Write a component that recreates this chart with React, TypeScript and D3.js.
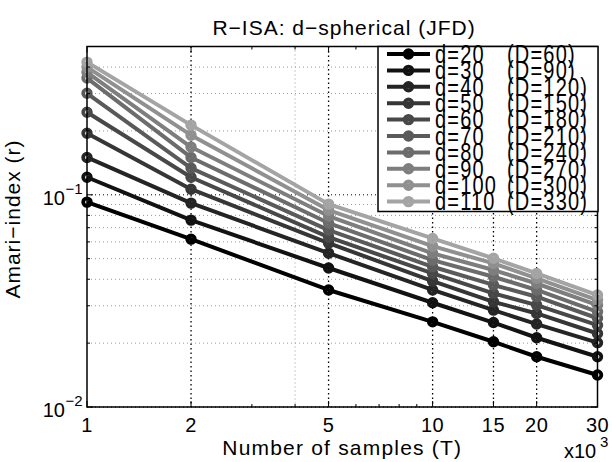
import React from 'react';
import * as d3 from 'd3';

// ---- data ----
const samples = [1, 2, 5, 10, 15, 20, 30]; // x10^3
const xTickLabels = ['1', '2', '5', '10', '15', '20', '30'];
const dValues = [20, 30, 40, 50, 60, 70, 80, 90, 100, 110];
const DValues = [60, 90, 120, 150, 180, 210, 240, 270, 300, 330];

const d20 = [0.0924, 0.0618, 0.0356, 0.0252, 0.0203, 0.01725, 0.01415];
const d30 = [0.121, 0.076, 0.0452, 0.031, 0.025, 0.0212, 0.01725];
const d40 = [0.15, 0.0914, 0.0531, 0.0356, 0.0286, 0.0246, 0.0201];
const d50 = [0.195, 0.1063, 0.0592, 0.0392, 0.0313, 0.0276, 0.0222];
const d60 = [0.245, 0.121, 0.0632, 0.0426, 0.0343, 0.0302, 0.0243];
const d70 = [0.301, 0.1336, 0.0682, 0.0458, 0.0376, 0.0331, 0.0262];
const d80 = [0.355, 0.15, 0.0736, 0.0492, 0.0411, 0.0356, 0.0281];
const d90 = [0.378, 0.168, 0.0794, 0.053, 0.0442, 0.0382, 0.0302];
const d100 = [0.4, 0.191, 0.0847, 0.0573, 0.0475, 0.0404, 0.0319];
const d110 = [0.422, 0.213, 0.0904, 0.0623, 0.0502, 0.0426, 0.0337];
const allSeries = [d20, d30, d40, d50, d60, d70, d80, d90, d100, d110];

const grays = [0, 18, 36, 54, 72, 90, 108, 126, 144, 164];

const yMajor = [0.01, 0.1];
const yMinor = [0.02, 0.03, 0.04, 0.05, 0.06, 0.07, 0.08, 0.09, 0.2, 0.3, 0.4, 0.5];
const xMinorTicks = [3, 4, 6, 7, 8, 9];
const xMinorGrid = [4];

const FONT = '"Liberation Sans", Arial, Helvetica, sans-serif';

export default function App() {
  const left = 87, right = 597.5, top = 46.5, bottom = 407;
  const x = d3.scaleLog().domain([1, 30]).range([left, right]);
  const y = d3.scaleLog().domain([0.01, 0.5]).range([bottom, top]);
  const line = d3
    .line<number>()
    .x((_, i) => x(samples[i]))
    .y((v) => y(v));
  const col = (i: number) => `rgb(${grays[i]},${grays[i]},${grays[i]})`;

  const legX = 378, legY = 46.5, legW = 220, legH = 165;
  const rowY = (i: number) => 54 + i * 16.4;

  return (
    <svg width={612} height={462} style={{ position: 'absolute', left: 0, top: 0, background: '#fff' }} fontFamily={FONT}>
      <rect x={0} y={0} width={612} height={462} fill="#fff" />
      {/* grid */}
      <g>
        {yMinor.map((v) => (
          <line key={'ym' + v} x1={left} x2={right} y1={y(v)} y2={y(v)} stroke="#999" strokeWidth={1} strokeDasharray="1,3" />
        ))}
        {yMajor.map((v) => (
          <line key={'yM' + v} x1={left} x2={right} y1={y(v)} y2={y(v)} stroke="#000" strokeWidth={1} strokeDasharray="1,3" />
        ))}
        {xMinorGrid.map((v) => (
          <line key={'xm' + v} x1={x(v)} x2={x(v)} y1={top} y2={bottom} stroke="#999" strokeWidth={1} strokeDasharray="1,3" />
        ))}
        {samples.slice(1, -1).map((v) => (
          <line key={'xM' + v} x1={x(v)} x2={x(v)} y1={top} y2={bottom} stroke="#000" strokeWidth={1.3} strokeDasharray="1.5,3" />
        ))}
      </g>
      {/* series */}
      {allSeries.map((s, i) => (
        <g key={'s' + i}>
          <path d={line(s) || ''} fill="none" stroke={col(i)} strokeWidth={4} strokeLinejoin="round" />
          {s.map((v, j) => (
            <circle key={j} cx={x(samples[j])} cy={y(v)} r={3.8} fill="none" stroke={col(i)} strokeWidth={3.8} />
          ))}
        </g>
      ))}
      {/* ticks */}
      <g stroke="#000" strokeWidth={1}>
        {samples.map((v) => (
          <g key={'xt' + v}>
            <line x1={x(v)} x2={x(v)} y1={bottom} y2={bottom - 6} />
            <line x1={x(v)} x2={x(v)} y1={top} y2={top + 6} />
          </g>
        ))}
        {xMinorTicks.map((v) => (
          <g key={'xmt' + v}>
            <line x1={x(v)} x2={x(v)} y1={bottom} y2={bottom - 3} />
            <line x1={x(v)} x2={x(v)} y1={top} y2={top + 3} />
          </g>
        ))}
        {yMajor.map((v) => (
          <g key={'yt' + v}>
            <line x1={left} x2={left + 6} y1={y(v)} y2={y(v)} />
            <line x1={right} x2={right - 6} y1={y(v)} y2={y(v)} />
          </g>
        ))}
        {yMinor.map((v) => (
          <g key={'ymt' + v}>
            <line x1={left} x2={left + 3} y1={y(v)} y2={y(v)} />
            <line x1={right} x2={right - 3} y1={y(v)} y2={y(v)} />
          </g>
        ))}
      </g>
      {/* box */}
      <rect x={left} y={top} width={right - left} height={bottom - top} fill="none" stroke="#000" strokeWidth={1.5} />
      {/* legend */}
      <g>
        <rect x={legX} y={legY} width={legW} height={legH} fill="#fff" stroke="#000" strokeWidth={1.5} />
        {dValues.map((d, i) => (
          <g key={'lgl' + d}>
            <line x1={387} x2={430} y1={rowY(i)} y2={rowY(i)} stroke={col(i)} strokeWidth={4} />
            <circle cx={408.5} cy={rowY(i)} r={3.8} fill="none" stroke={col(i)} strokeWidth={3.8} />
          </g>
        ))}
        {dValues.map((d, i) => {
          const by = rowY(i) + 8.8;
          return (
            <g key={'lgt' + d}>
              <text transform={`translate(435,${by}) scale(1,1.25)`} fontSize={20} letterSpacing={1.2} fill="#000">{`d=${d}`}</text>
              <text transform={`translate(507,${by}) scale(1,1.25)`} fontSize={20} letterSpacing={1.2} fill="#000">{`(D=${DValues[i]})`}</text>
            </g>
          );
        })}
      </g>
      {/* x tick labels */}
      {samples.map((v, i) => (
        <text key={'xl' + v} x={x(v)} y={431.5} fontSize={20} textAnchor="middle" letterSpacing={0.5}>{xTickLabels[i]}</text>
      ))}
      {/* y tick labels */}
      {yMajor.map((v) => (
        <g key={'yl' + v}>
          <text x={65} y={y(v) + 10} fontSize={20} textAnchor="end">10</text>
          <text x={65.5} y={y(v) - 1} fontSize={15}>{'\u2212' + String(Math.round(-Math.log10(v)))}</text>
        </g>
      ))}
      {/* x10^3 */}
      <text x={564} y={458} fontSize={20}>x10</text>
      <text x={600} y={447} fontSize={15}>3</text>
      {/* labels */}
      <text x={(left + right) / 2} y={455} fontSize={21} textAnchor="middle" letterSpacing={1.2}>Number of samples (T)</text>
      <text transform={`translate(19.5,${219}) rotate(-90)`} fontSize={21} textAnchor="middle" letterSpacing={1}>{'Amari\u2212index (r)'}</text>
      <text x={344} y={35} fontSize={21} textAnchor="middle" letterSpacing={1}>{'R\u2212ISA: d\u2212spherical (JFD)'}</text>
    </svg>
  );
}
